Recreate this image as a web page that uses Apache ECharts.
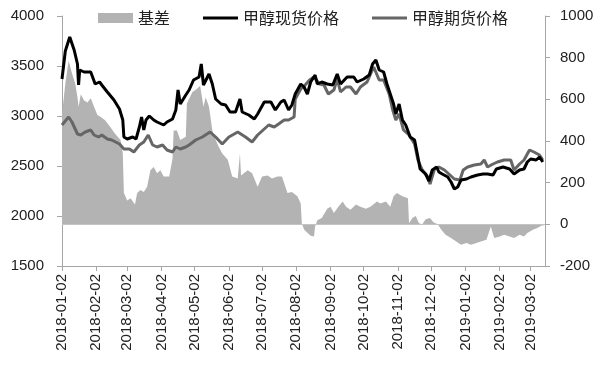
<!DOCTYPE html>
<html><head><meta charset="utf-8">
<script src="https://cdn.jsdelivr.net/npm/echarts@6/dist/echarts.min.js"></script>
<style>html,body{margin:0;padding:0;background:#fff}#c{width:600px;height:365px}</style>
</head><body><div id="c"></div>
<script>
const seriesNames = ['基差', '甲醇现货价格', '甲醇期货价格'];

const tickLabels = ['2018-01-02','2018-02-02','2018-03-02','2018-04-02','2018-05-02','2018-06-02','2018-07-02','2018-08-02','2018-09-02','2018-10-02','2018-11-02','2018-12-02','2019-01-02','2019-02-02','2019-03-02'];
const axisEnd = '2019-03-15';

const basisData = [['2018-01-02',530],['2018-01-05',675],['2018-01-08',785],['2018-01-11',725],['2018-01-14',675],['2018-01-16',610],['2018-01-17',565],['2018-01-19',625],['2018-01-22',595],['2018-01-25',585],['2018-01-28',605],['2018-01-31',565],['2018-02-03',525],['2018-02-06',515],['2018-02-10',500],['2018-02-15',465],['2018-02-19',435],['2018-02-24',405],['2018-02-26',340],['2018-02-27',150],['2018-03-02',115],['2018-03-05',125],['2018-03-09',95],['2018-03-11',150],['2018-03-14',165],['2018-03-17',155],['2018-03-20',180],['2018-03-23',260],['2018-03-26',275],['2018-03-29',245],['2018-04-01',260],['2018-04-04',230],['2018-04-09',230],['2018-04-12',315],['2018-04-13',450],['2018-04-16',450],['2018-04-19',405],['2018-04-24',420],['2018-04-25',580],['2018-04-30',635],['2018-05-04',650],['2018-05-07',665],['2018-05-10',565],['2018-05-12',610],['2018-05-15',565],['2018-05-18',450],['2018-05-21',405],['2018-05-24',370],['2018-05-27',340],['2018-06-01',310],['2018-06-05',230],['2018-06-10',220],['2018-06-12',340],['2018-06-13',235],['2018-06-19',260],['2018-06-23',245],['2018-06-28',180],['2018-07-02',230],['2018-07-07',235],['2018-07-11',220],['2018-07-16',230],['2018-07-20',230],['2018-07-25',150],['2018-07-29',155],['2018-08-03',135],['2018-08-06',100],['2018-08-07',5],['2018-08-09',-25],['2018-08-12',-40],['2018-08-15',-55],['2018-08-18',-58],['2018-08-19',-10],['2018-08-21',20],['2018-08-25',30],['2018-08-30',75],['2018-09-02',85],['2018-09-05',55],['2018-09-09',85],['2018-09-13',110],['2018-09-16',85],['2018-09-20',70],['2018-09-25',95],['2018-09-29',85],['2018-10-04',75],['2018-10-08',85],['2018-10-14',110],['2018-10-17',100],['2018-10-22',110],['2018-10-26',85],['2018-10-29',135],['2018-11-01',150],['2018-11-06',135],['2018-11-11',125],['2018-11-12',5],['2018-11-15',30],['2018-11-18',40],['2018-11-21',5],['2018-11-24',0],['2018-11-27',25],['2018-12-01',30],['2018-12-04',10],['2018-12-08',0],['2018-12-11',-25],['2018-12-15',-50],['2018-12-20',-65],['2018-12-24',-80],['2018-12-29',-98],['2019-01-03',-90],['2019-01-07',-98],['2019-01-12',-90],['2019-01-16',-82],['2019-01-21',-74],['2019-01-25',-10],['2019-01-28',-66],['2019-02-02',-58],['2019-02-06',-50],['2019-02-11',-58],['2019-02-15',-66],['2019-02-20',-50],['2019-02-24',-58],['2019-02-27',-42],['2019-03-04',-26],['2019-03-08',-18],['2019-03-12',-5],['2019-03-14',-5]];

const spotData = [['2018-01-02',3370],['2018-01-05',3650],['2018-01-09',3790],['2018-01-13',3660],['2018-01-16',3520],['2018-01-17',3310],['2018-01-18',3460],['2018-01-22',3440],['2018-01-28',3440],['2018-01-29',3410],['2018-02-01',3320],['2018-02-05',3340],['2018-02-07',3310],['2018-02-12',3240],['2018-02-18',3160],['2018-02-23',3070],['2018-02-26',2960],['2018-02-27',2790],['2018-03-02',2770],['2018-03-07',2790],['2018-03-10',2770],['2018-03-13',2890],['2018-03-15',2990],['2018-03-17',2860],['2018-03-19',2960],['2018-03-22',3000],['2018-03-26',2960],['2018-03-29',2940],['2018-04-04',2910],['2018-04-07',2940],['2018-04-12',2970],['2018-04-15',3060],['2018-04-17',3260],['2018-04-19',3120],['2018-04-24',3210],['2018-04-27',3260],['2018-05-01',3360],['2018-05-06',3390],['2018-05-08',3520],['2018-05-10',3310],['2018-05-15',3420],['2018-05-18',3320],['2018-05-21',3170],['2018-05-26',3120],['2018-05-30',3110],['2018-06-03',3040],['2018-06-08',3040],['2018-06-12',3170],['2018-06-14',3040],['2018-06-20',3010],['2018-06-25',2970],['2018-06-28',3020],['2018-07-04',3140],['2018-07-10',3140],['2018-07-14',3060],['2018-07-19',3140],['2018-07-22',3160],['2018-07-26',3060],['2018-07-29',3110],['2018-08-01',3220],['2018-08-06',3320],['2018-08-09',3290],['2018-08-12',3220],['2018-08-15',3340],['2018-08-19',3410],['2018-08-21',3320],['2018-08-25',3340],['2018-08-30',3320],['2018-09-04',3310],['2018-09-08',3420],['2018-09-11',3320],['2018-09-17',3390],['2018-09-23',3390],['2018-09-26',3340],['2018-10-02',3370],['2018-10-07',3410],['2018-10-10',3520],['2018-10-13',3560],['2018-10-16',3460],['2018-10-20',3440],['2018-10-23',3320],['2018-10-26',3220],['2018-10-29',3120],['2018-10-31',3020],['2018-11-03',3120],['2018-11-06',2960],['2018-11-09',2910],['2018-11-13',2790],['2018-11-17',2760],['2018-11-20',2590],['2018-11-22',2470],['2018-11-27',2420],['2018-11-30',2350],['2018-12-03',2460],['2018-12-07',2490],['2018-12-09',2440],['2018-12-12',2420],['2018-12-17',2390],['2018-12-20',2340],['2018-12-23',2270],['2018-12-26',2290],['2018-12-29',2360],['2019-01-03',2370],['2019-01-07',2390],['2019-01-13',2410],['2019-01-18',2420],['2019-01-22',2420],['2019-01-27',2410],['2019-01-30',2470],['2019-02-05',2490],['2019-02-11',2470],['2019-02-15',2420],['2019-02-20',2460],['2019-02-24',2470],['2019-02-27',2540],['2019-03-02',2570],['2019-03-07',2560],['2019-03-10',2590],['2019-03-13',2540]];

const futuresData = [['2018-01-02',2910],['2018-01-08',2990],['2018-01-11',2940],['2018-01-16',2820],['2018-01-19',2810],['2018-01-23',2840],['2018-01-28',2860],['2018-01-31',2810],['2018-02-04',2790],['2018-02-07',2810],['2018-02-12',2770],['2018-02-16',2760],['2018-02-23',2720],['2018-02-27',2670],['2018-03-04',2670],['2018-03-08',2640],['2018-03-13',2710],['2018-03-17',2740],['2018-03-21',2810],['2018-03-25',2710],['2018-03-29',2690],['2018-04-03',2710],['2018-04-07',2660],['2018-04-12',2640],['2018-04-15',2690],['2018-04-19',2670],['2018-04-24',2690],['2018-04-27',2710],['2018-05-03',2760],['2018-05-09',2790],['2018-05-16',2840],['2018-05-21',2790],['2018-05-27',2720],['2018-06-02',2790],['2018-06-10',2840],['2018-06-17',2790],['2018-06-23',2740],['2018-06-28',2810],['2018-07-04',2870],['2018-07-08',2910],['2018-07-13',2890],['2018-07-17',2920],['2018-07-22',2960],['2018-07-26',2960],['2018-07-31',2990],['2018-08-01',3170],['2018-08-06',3270],['2018-08-10',3310],['2018-08-14',3360],['2018-08-18',3390],['2018-08-23',3320],['2018-08-27',3310],['2018-08-31',3220],['2018-09-05',3260],['2018-09-08',3370],['2018-09-11',3240],['2018-09-16',3290],['2018-09-20',3290],['2018-09-25',3220],['2018-09-29',3290],['2018-10-05',3340],['2018-10-11',3490],['2018-10-16',3360],['2018-10-20',3360],['2018-10-25',3220],['2018-10-28',3070],['2018-10-31',2960],['2018-11-03',3020],['2018-11-07',2860],['2018-11-12',2810],['2018-11-17',2720],['2018-11-20',2560],['2018-11-24',2460],['2018-11-29',2390],['2018-12-01',2320],['2018-12-05',2470],['2018-12-09',2490],['2018-12-14',2460],['2018-12-18',2420],['2018-12-23',2370],['2018-12-28',2360],['2018-12-31',2460],['2019-01-04',2490],['2019-01-10',2510],['2019-01-16',2520],['2019-01-19',2560],['2019-01-22',2490],['2019-01-27',2520],['2019-01-31',2540],['2019-02-06',2560],['2019-02-12',2560],['2019-02-15',2460],['2019-02-20',2520],['2019-02-24',2560],['2019-03-01',2660],['2019-03-05',2640],['2019-03-10',2610],['2019-03-13',2560]];

const FONT = "'Liberation Sans', 'Noto Sans CJK SC', sans-serif";
const AXIS_GRAY = '#a6a6a6';
const LINE_ICON = 'path://M0,0 L35,0 L35,3 L0,3 Z';
const ts = s => echarts.time.parse(s).getTime();
const toXY = arr => arr.map(d => [ts(d[0]), d[1]]);
const tickValues = tickLabels.map(ts);

const chart = echarts.init(document.getElementById('c'), null, { renderer: 'canvas' });
chart.setOption({
  animation: false,
  backgroundColor: '#fff',
  textStyle: { fontFamily: FONT },
  grid: { left: 62, right: 55, top: 16, bottom: 99, containLabel: false, outerBoundsMode: 'none' },
  legend: {
    top: 10, left: 98, padding: 0, itemWidth: 35, itemHeight: 10, itemGap: 33,
    textStyle: { fontSize: 16, color: '#222', fontFamily: "'Noto Sans CJK SC', sans-serif" },
    data: [
      { name: seriesNames[0], icon: 'rect' },
      { name: seriesNames[1], icon: LINE_ICON },
      { name: seriesNames[2], icon: LINE_ICON }
    ]
  },
  xAxis: {
    type: 'value',
    min: tickValues[0],
    max: ts(axisEnd),
    splitLine: { show: false },
    axisLine: { show: true, onZero: false, lineStyle: { color: AXIS_GRAY, width: 1 } },
    axisTick: { show: true, length: 5, lineStyle: { color: AXIS_GRAY }, customValues: tickValues },
    axisLabel: {
      customValues: tickValues, rotate: 90, margin: 8, fontSize: 15, color: '#222', hideOverlap: false,
      formatter: v => echarts.time.format(v, '{yyyy}-{MM}-{dd}', false)
    }
  },
  yAxis: [
    {
      type: 'value', min: 1500, max: 4000, interval: 500, position: 'left',
      splitLine: { show: false },
      axisLine: { show: true, lineStyle: { color: AXIS_GRAY } },
      axisTick: { show: true, length: 5, lineStyle: { color: AXIS_GRAY } },
      axisLabel: { margin: 18, fontSize: 15, color: '#222', formatter: v => String(v) }
    },
    {
      type: 'value', min: -200, max: 1000, interval: 200, position: 'right',
      splitLine: { show: false },
      axisLine: { show: true, lineStyle: { color: AXIS_GRAY } },
      axisTick: { show: true, length: 5, lineStyle: { color: AXIS_GRAY } },
      axisLabel: { margin: 15, fontSize: 15, color: '#222', formatter: v => String(v) }
    }
  ],
  series: [
    {
      name: seriesNames[0], type: 'line', yAxisIndex: 1, data: toXY(basisData),
      symbol: 'none', lineStyle: { width: 0 },
      areaStyle: { color: '#b3b3b3', opacity: 1 }, itemStyle: { color: '#b3b3b3' }, z: 1,
      markLine: { silent: true, symbol: 'none', label: { show: false },
        lineStyle: { color: '#c4c4c4', width: 1, type: 'solid' }, data: [{ yAxis: 0 }] }
    },
    {
      name: seriesNames[1], type: 'line', yAxisIndex: 0, data: toXY(spotData),
      symbol: 'none', lineStyle: { color: '#000', width: 3 }, itemStyle: { color: '#000' }, z: 3
    },
    {
      name: seriesNames[2], type: 'line', yAxisIndex: 0, data: toXY(futuresData),
      symbol: 'none', lineStyle: { color: '#666', width: 3 }, itemStyle: { color: '#666' }, z: 2
    }
  ]
});
</script>
</body></html>
